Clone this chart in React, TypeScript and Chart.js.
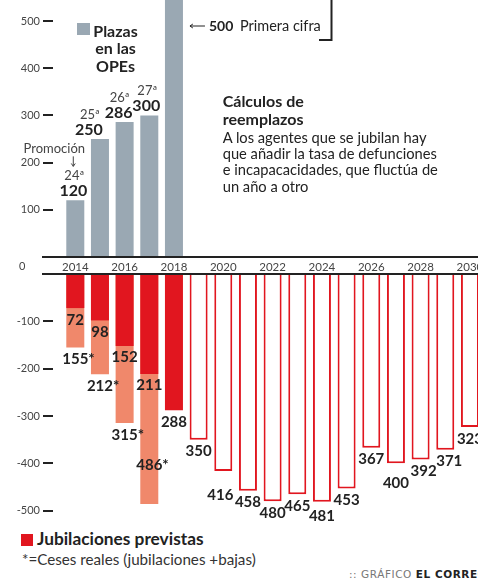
import React, { useEffect, useRef } from 'react';
import { Chart, registerables } from 'chart.js';

Chart.register(...registerables);

// ---------- DATA ----------
const plazasYears = [2014, 2015, 2016, 2017, 2018];
const plazas = [120, 250, 286, 300, 600]; // 2018 bar runs off the top of the graphic
const promociones = ['24ª', '25ª', '26ª', '27ª'];
const primeraCifra = 500;

const jubYears = [2014, 2015, 2016, 2017, 2018];
const jubilaciones = [72, 98, 152, 211, 288];

const cesesYears = [2014, 2015, 2016, 2017];
const cesesReales = [155, 212, 315, 486];

const prevYears = [2019, 2020, 2021, 2022, 2023, 2024, 2025, 2026, 2027, 2028, 2029, 2030];
const previstas = [350, 416, 458, 480, 465, 481, 453, 367, 400, 392, 371, 323];

const yearTicks = [2014, 2016, 2018, 2020, 2022, 2024, 2026, 2028, 2030];
const topTicks = [100, 200, 300, 400, 500];
const bottomTicks = [-100, -200, -300, -400, -500];

// ---------- LAYOUT / STYLE ----------
const CW = 520;
const X_MIN = 2013.096;
const X_MAX = 2032.03;
const TOP_MAX = 544.5;
const BOT_MIN = -528.1;
const GREY = '#9aa8b3';
const RED = '#e1161f';
const SALMON = '#f0886b';
const DARK = '#222';
const TICK = '#444';
const FONT = 'Lato';

const TOP_NUDGE = [-2, -11, -6, -3];
const PREV_DX = [0, -3, 0, 0, 0, 0, 0, 0, 0, 3, 4, 0];
const PREV_DY = [0, 13, 0, 0, 0, 3, 0, 0, 8, 0, 0, 1];

const noPad = (s: any) => {
  s.paddingTop = 0;
  s.paddingBottom = 0;
  s.paddingLeft = 0;
  s.paddingRight = 0;
};

const yAxisBase = (ticks: number[]) => ({
  afterFit: (s: any) => { s.width = 53; noPad(s); },
  afterBuildTicks: (s: any) => { s.ticks = ticks.map((v) => ({ value: v })); },
  border: { display: false },
  grid: { drawOnChartArea: false, drawTicks: true, tickLength: 10, tickColor: DARK, lineWidth: 2 },
  ticks: { color: TICK, font: { family: FONT, size: 11 }, padding: 3, callback: (v: any) => String(v) },
});

const xAxisBase = (display: boolean) => ({
  type: 'linear' as const,
  min: X_MIN,
  max: X_MAX,
  offset: false,
  display,
  afterFit: (s: any) => { s.height = display ? 18 : 0; noPad(s); },
  afterBuildTicks: (s: any) => { s.ticks = yearTicks.map((v) => ({ value: v })); },
  border: { display: false },
  grid: { display: false, drawTicks: false },
  ticks: { color: TICK, font: { family: FONT, size: 11.5 }, padding: 3, autoSkip: false, maxRotation: 0, callback: (v: any) => String(v) },
});

const arrow = (ctx: CanvasRenderingContext2D, x1: number, y1: number, x2: number, y2: number) => {
  ctx.beginPath();
  ctx.moveTo(x1, y1);
  ctx.lineTo(x2, y2);
  ctx.stroke();
  const a = Math.atan2(y2 - y1, x2 - x1);
  ctx.beginPath();
  ctx.moveTo(x2 - 3.5 * Math.cos(a - 0.6), y2 - 3.5 * Math.sin(a - 0.6));
  ctx.lineTo(x2, y2);
  ctx.lineTo(x2 - 3.5 * Math.cos(a + 0.6), y2 - 3.5 * Math.sin(a + 0.6));
  ctx.stroke();
};

const topDecor = {
  id: 'topDecor',
  afterDatasetsDraw(chart: any) {
    const ctx: CanvasRenderingContext2D = chart.ctx;
    const area = chart.chartArea;
    const meta = chart.getDatasetMeta(0);
    const yS = chart.scales.y;
    ctx.save();
    ctx.fillStyle = DARK;
    ctx.fillRect(42, area.bottom - 1, chart.width, 2);
    ctx.fillRect(42, chart.height - 2, chart.width, 2);
    ctx.textAlign = 'center';
    ctx.textBaseline = 'alphabetic';
    promociones.forEach((p, i) => {
      const bar = meta.data[i];
      const x = bar.x + TOP_NUDGE[i];
      ctx.fillStyle = DARK;
      ctx.font = `bold 16px ${FONT}`;
      ctx.fillText(String(plazas[i]), x, bar.y - 4.5);
      ctx.fillStyle = '#444';
      ctx.font = `13px ${FONT}`;
      ctx.fillText(p, x + 1, bar.y - 20);
    });
    const b0 = meta.data[0];
    ctx.fillStyle = '#444';
    ctx.font = `13px ${FONT}`;
    ctx.fillText('Promoción', b0.x - 21, b0.y - 47);
    ctx.strokeStyle = '#444';
    ctx.lineWidth = 1;
    arrow(ctx, b0.x - 2, b0.y - 44, b0.x - 2, b0.y - 34);

    // annotation for 2018
    const b4 = meta.data[4];
    const ya = yS.getPixelForValue(primeraCifra) + 5;
    const x0 = b4.x + b4.width / 2 + 7;
    ctx.strokeStyle = DARK;
    ctx.lineWidth = 1;
    arrow(ctx, x0 + 15, ya, x0, ya);
    ctx.textAlign = 'left';
    ctx.textBaseline = 'middle';
    ctx.fillStyle = DARK;
    ctx.font = `bold 14px ${FONT}`;
    ctx.fillText(String(primeraCifra), x0 + 19, ya);
    ctx.font = `14.5px ${FONT}`;
    ctx.fillText('Primera cifra', x0 + 50, ya);
    ctx.lineWidth = 2;
    ctx.beginPath();
    ctx.moveTo(331.5, 0);
    ctx.lineTo(331.5, 40);
    ctx.lineTo(319, 40);
    ctx.stroke();
    ctx.restore();
  },
};

const bottomDecor = {
  id: 'bottomDecor',
  afterDatasetsDraw(chart: any) {
    const ctx: CanvasRenderingContext2D = chart.ctx;
    ctx.save();
    ctx.fillStyle = DARK;
    ctx.fillRect(42, 0, chart.width, 2);
    ctx.font = `bold 15px ${FONT}`;
    ctx.textBaseline = 'alphabetic';
    ctx.textAlign = 'center';
    const mRed = chart.getDatasetMeta(0);
    jubilaciones.forEach((v, i) => {
      const b = mRed.data[i];
      ctx.fillText(String(v), b.x, b.y + 16.5);
    });
    const mSal = chart.getDatasetMeta(1);
    ctx.textAlign = 'left';
    cesesReales.forEach((v, i) => {
      const b = mSal.data[i];
      const w = ctx.measureText(String(v)).width;
      const y = v > 450 ? b.y - 34 : b.y + 16.5;
      ctx.fillText(`${v}*`, b.x - w / 2, y);
    });
    const mPrev = chart.getDatasetMeta(2);
    ctx.textAlign = 'center';
    previstas.forEach((v, i) => {
      const b = mPrev.data[i];
      ctx.fillText(String(v), b.x + PREV_DX[i], b.y + 16.5 + PREV_DY[i]);
    });
    ctx.restore();
  },
};

const barCommon = { barPercentage: 0.73, categoryPercentage: 1, grouped: false };

export default function App() {
  const topRef = useRef<HTMLCanvasElement>(null);
  const botRef = useRef<HTMLCanvasElement>(null);

  useEffect(() => {
    Chart.defaults.font.family = FONT;
    const top = new Chart(topRef.current!, {
      type: 'bar',
      data: {
        datasets: [
          {
            ...barCommon,
            data: plazasYears.map((x, i) => ({ x, y: plazas[i] })),
            backgroundColor: GREY,
            borderWidth: 0,
          },
        ],
      },
      options: {
        responsive: false,
        devicePixelRatio: 1,
        animation: false,
        layout: { padding: 0 },
        plugins: { legend: { display: false }, tooltip: { enabled: false } },
        scales: {
          x: xAxisBase(true) as any,
          y: { min: 0, max: TOP_MAX, ...yAxisBase(topTicks) } as any,
        },
      },
      plugins: [topDecor],
    });

    const bot = new Chart(botRef.current!, {
      type: 'bar',
      data: {
        datasets: [
          {
            ...barCommon,
            data: jubYears.map((x, i) => ({ x, y: -jubilaciones[i] })),
            backgroundColor: RED,
            borderWidth: 0,
          },
          {
            ...barCommon,
            data: cesesYears.map((x, i) => ({ x, y: -cesesReales[i] })),
            backgroundColor: SALMON,
            borderWidth: 0,
          },
          {
            ...barCommon,
            data: prevYears.map((x, i) => ({ x, y: -previstas[i] })),
            backgroundColor: '#ffffff',
            borderColor: RED,
            borderWidth: 2,
          },
        ],
      },
      options: {
        responsive: false,
        devicePixelRatio: 1,
        animation: false,
        layout: { padding: { top: 1 } },
        plugins: { legend: { display: false }, tooltip: { enabled: false } },
        scales: {
          x: xAxisBase(false) as any,
          y: { min: BOT_MIN, max: 0, ...yAxisBase(bottomTicks) } as any,
        },
      },
      plugins: [bottomDecor],
    });

    return () => {
      top.destroy();
      bot.destroy();
    };
  }, []);

  const abs = (s: React.CSSProperties): React.CSSProperties => ({ position: 'absolute', margin: 0, whiteSpace: 'nowrap', ...s });

  return (
    <div style={{ position: 'absolute', left: 0, top: 0, width: 478, height: 578, overflow: 'hidden', background: '#fff', fontFamily: `${FONT}, sans-serif`, color: DARK }}>
      <canvas ref={topRef} width={CW} height={275} style={{ position: 'absolute', left: 0, top: 0 }} />
      <canvas ref={botRef} width={CW} height={251} style={{ position: 'absolute', left: 0, top: 273 }} />

      <div style={abs({ left: 19, top: 259, fontSize: 11, lineHeight: '14px', color: TICK })}>0</div>

      <div style={abs({ left: 77, top: 23, width: 13, height: 12, background: GREY })} />
      <div style={abs({ left: 85, top: 21.7, width: 61, textAlign: 'center', fontWeight: 700, fontSize: 16, lineHeight: '17.5px' })}>
        Plazas<br />en las<br />OPEs
      </div>

      <div style={abs({ left: 222.7, top: 92.2, fontWeight: 700, fontSize: 16, lineHeight: '18.3px' })}>
        Cálculos de<br />reemplazos
      </div>
      <div style={abs({ left: 222.7, top: 128.7, fontSize: 14.7, lineHeight: '16.3px' })}>
        A los agentes que se jubilan hay<br />que añadir la tasa de defunciones<br />e incapacacidades, que fluctúa de<br />un año a otro
      </div>

      <div style={abs({ left: 21, top: 534, width: 12, height: 12, background: RED })} />
      <div style={abs({ left: 37, top: 529.4, fontWeight: 700, fontSize: 17.3, lineHeight: '20px' })}>Jubilaciones previstas</div>
      <div style={abs({ left: 22, top: 550, fontSize: 15.2, lineHeight: '19px', color: '#333' })}>*=Ceses reales (jubilaciones +bajas)</div>

      <div style={abs({ left: 349, top: 568, fontSize: 10.5, lineHeight: '12px', fontFamily: 'DejaVu Sans, sans-serif', letterSpacing: 0.55, color: '#777' })}>
        ::&nbsp;GRÁFICO <span style={{ fontWeight: 700, color: DARK }}>EL CORREO</span>
      </div>
    </div>
  );
}
